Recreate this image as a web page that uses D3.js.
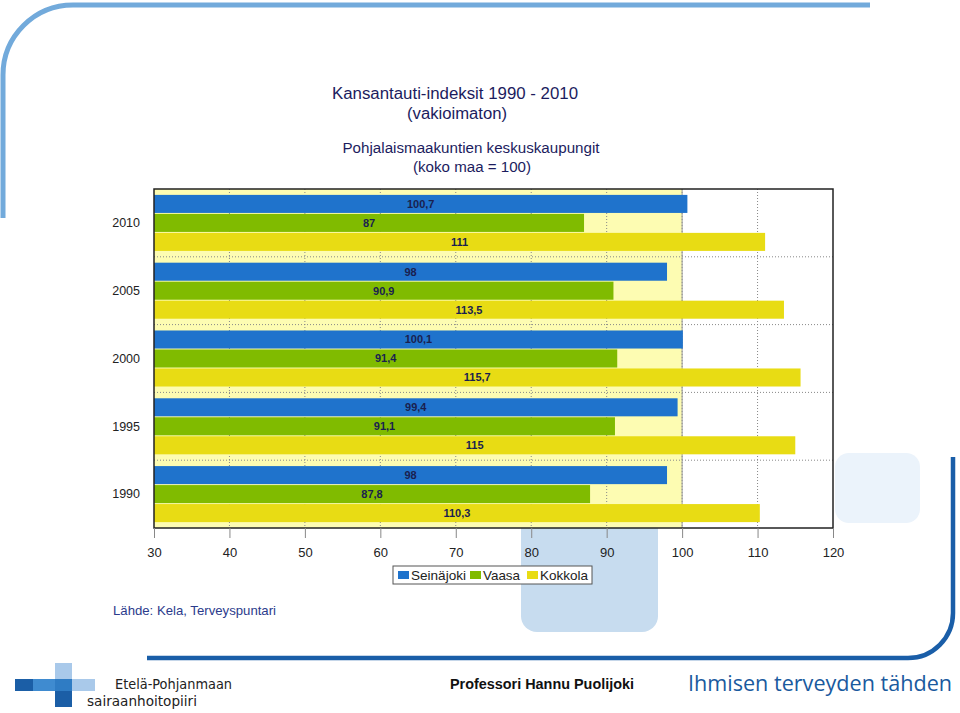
<!DOCTYPE html>
<html><head><meta charset="utf-8">
<script src="https://cdn.jsdelivr.net/npm/d3@7"></script>
<style>body{margin:0;background:#fff}svg{display:block}text{font-family:"Liberation Sans",Arial,sans-serif}</style>
</head><body><svg id="c" width="960" height="713"></svg>
<script>
const years = ["2010","2005","2000","1995","1990"];
const seriesNames = ["Seinäjoki","Vaasa","Kokkola"];
const seinajoki = [100.7, 98, 100.1, 99.4, 98];
const vaasa = [87, 90.9, 91.4, 91.1, 87.8];
const kokkola = [111, 113.5, 115.7, 115, 110.3];
const xTicks = [30,40,50,60,70,80,90,100,110,120];
const colors = ["#1f73cc","#80bb00","#e8dc14"];

const svg = d3.select("#c");
const L = 154, R = 833, T = 189, B = 528;
const x = d3.scaleLinear().domain([30,120]).range([L,R]);
const y = d3.scaleBand().domain(years).range([T,B]).padding(0);
const yi = d3.scaleBand().domain(seriesNames).range([0,y.bandwidth()]).paddingInner(0.05).paddingOuter(0.31);
const color = d3.scaleOrdinal().domain(seriesNames).range(colors);
const seriesVals = [seinajoki, vaasa, kokkola];
const data = [];
years.forEach((yr,i)=>seriesNames.forEach((s,j)=>data.push({yr, s, v: seriesVals[j][i]})));

// decorative background
svg.append("path").attr("d","M870,5 L73,5 A70,70 0 0 0 3,75 L3,218")
  .attr("fill","none").attr("stroke","#72aadb").attr("stroke-width",5);
svg.append("path").attr("d","M953,457 L953,613 A45,45 0 0 1 908,658 L147,658")
  .attr("fill","none").attr("stroke","#1a5ea8").attr("stroke-width",4.5);
svg.append("rect").attr("x",835).attr("y",453).attr("width",85).attr("height",70).attr("rx",14).attr("fill","#ebf3fb");
svg.append("rect").attr("x",521).attr("y",505).attr("width",137).attr("height",127).attr("rx",16).attr("fill","#c7dcef");

// titles
const navy = "#1c1c5e";
function t(txt, xx, yy, size, len, opts={}) {
  const e = svg.append("text").attr("x",xx).attr("y",yy).attr("font-size",size).text(txt)
    .attr("fill", opts.fill || navy).attr("text-anchor", opts.anchor || "middle");
  if (len) e.attr("textLength",len).attr("lengthAdjust","spacingAndGlyphs");
  if (opts.weight) e.attr("font-weight",opts.weight);
  if (opts.family) e.style("font-family",opts.family);
  return e;
}
t("Kansantauti-indeksit 1990 - 2010", 455, 99, 16, 246);
t("(vakioimaton)", 457, 119, 16, 100);
t("Pohjalaismaakuntien keskuskaupungit", 471, 153, 14, 257);
t("(koko maa = 100)", 472, 172, 14, 118);

// plot background
const g = svg.append("g");
g.append("rect").attr("x",L).attr("y",T).attr("width",R-L).attr("height",B-T).attr("fill","#fff");
g.append("rect").attr("x",L).attr("y",T).attr("width",x(100)-L).attr("height",B-T).attr("fill","#fdfcb2");
// grid
g.selectAll(".vg").data(xTicks.slice(1,-1)).join("line")
  .attr("x1",d=>x(d)).attr("x2",d=>x(d)).attr("y1",T).attr("y2",B)
  .attr("stroke","#888").attr("stroke-width",1).attr("stroke-dasharray","1,2");
g.selectAll(".hg").data(years.slice(1)).join("line")
  .attr("x1",L).attr("x2",R).attr("y1",d=>y(d)).attr("y2",d=>y(d))
  .attr("stroke","#888").attr("stroke-width",1).attr("stroke-dasharray","1,2");
g.append("line").attr("x1",x(100)).attr("x2",x(100)).attr("y1",T).attr("y2",B).attr("stroke","#999").attr("stroke-width",1);
// bars
g.selectAll(".bar").data(data).join("rect")
  .attr("x",x(30)).attr("y",d=>y(d.yr)+yi(d.s)).attr("width",d=>x(d.v)-x(30)).attr("height",yi.bandwidth())
  .attr("fill",d=>color(d.s));
// value labels
g.selectAll(".lbl").data(data).join("text")
  .attr("x",d=>(x(30)+x(d.v))/2).attr("y",d=>y(d.yr)+yi(d.s)+yi.bandwidth()/2).attr("dy","0.36em")
  .attr("text-anchor","middle").attr("font-size",11).attr("font-weight","bold").attr("fill","#1a1f4f")
  .text(d=>String(d.v).replace(".",","));
// frame
g.append("rect").attr("x",L).attr("y",T).attr("width",R-L).attr("height",B-T).attr("fill","none").attr("stroke","#222").attr("stroke-width",1.5);

// year labels
svg.selectAll(".yl").data(years).join("text")
  .attr("x",140).attr("y",d=>y(d)+y.bandwidth()/2).attr("dy","0.35em").attr("text-anchor","end")
  .attr("font-size",12.5).attr("fill","#222").text(d=>d);

// x axis
const ax = svg.append("g").attr("transform",`translate(0,${B})`)
  .call(d3.axisBottom(x).tickValues(xTicks).tickSize(10).tickPadding(10).tickFormat(d=>d));
ax.select(".domain").remove();
ax.selectAll(".tick line").attr("stroke","#888");
ax.selectAll(".tick text").attr("font-size",13).attr("fill","#222").style("font-family","'Liberation Sans',Arial,sans-serif");

// legend
const lg = svg.append("g");
lg.append("rect").attr("x",393).attr("y",566).attr("width",199).attr("height",18).attr("fill","#fff").attr("stroke","#555").attr("stroke-width",1);
const legX = [398, 470, 527];
const legW = [55, 37, 48];
seriesNames.forEach((s,i)=>{
  lg.append("rect").attr("x",legX[i]).attr("y",571).attr("width",11).attr("height",8).attr("fill",color(s));
  lg.append("text").attr("x",legX[i]+13).attr("y",580).attr("font-size",13).attr("fill","#222")
    .attr("textLength",legW[i]).attr("lengthAdjust","spacingAndGlyphs").text(s);
});

// source
t("Lähde: Kela, Terveyspuntari", 113, 615, 13, 163, {anchor:"start", fill:"#2b3b8c"});

// footer logo
const cross = [
  [55,663,17,16,"#a9c9ea"],
  [15,679,18,12,"#1b5ea6"],
  [33,679,22,12,"#3f8bd0"],
  [55,679,17,12,"#2f7cc4"],
  [72,679,23,12,"#a9c9ea"],
  [55,691,17,16,"#1b5ea6"]
];
svg.selectAll(".cr").data(cross).join("rect")
  .attr("x",d=>d[0]).attr("y",d=>d[1]).attr("width",d=>d[2]).attr("height",d=>d[3]).attr("fill",d=>d[4]);
t("Etelä-Pohjanmaan", 115, 689, 14, 117, {anchor:"start", fill:"#222", family:"'DejaVu Sans Condensed','DejaVu Sans',sans-serif"});
t("sairaanhoitopiiri", 87, 706, 14, 110, {anchor:"start", fill:"#222", family:"'DejaVu Sans Condensed','DejaVu Sans',sans-serif"});
t("Professori Hannu Puolijoki", 450, 689, 14, 184, {anchor:"start", fill:"#111", weight:"bold"});
t("Ihmisen terveyden tähden", 688, 691, 22, 264, {anchor:"start", fill:"#1a5a9e", family:"'Open Sans','DejaVu Sans',sans-serif"});
</script></body></html>
